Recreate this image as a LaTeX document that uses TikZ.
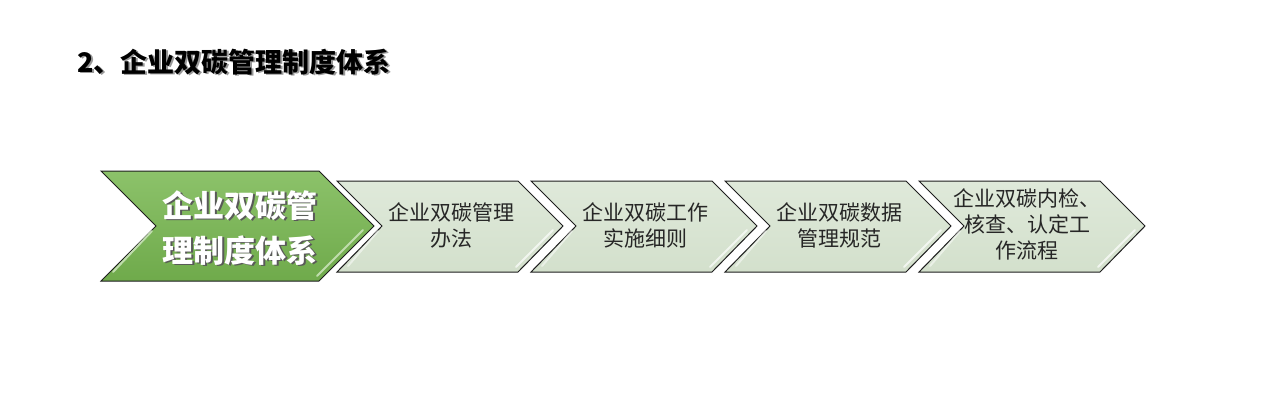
\documentclass[tikz,border=0pt]{standalone}
\usepackage{fontspec}
\newfontfamily\cjk{Noto Sans CJK SC}
\definecolor{gtop}{HTML}{8CC26A}
\definecolor{gbot}{HTML}{6FAA4B}
\definecolor{ltop}{HTML}{DFE9DA}
\definecolor{lbot}{HTML}{D3E0CC}
\definecolor{edge}{HTML}{1E1E1E}
\tikzset{
  chevgreen/.style={draw=edge, line width=1pt, top color=gtop, bottom color=gbot, line join=miter},
  chevgray/.style={draw=edge, line width=1pt, top color=ltop, bottom color=lbot, line join=miter},
  hilite/.style={line width=2pt, line cap=round},
  graytext/.style={font=\cjk\fontsize{21}{26}\selectfont, align=center, text=black!85},
  greentext/.style={font=\cjk\bfseries\fontsize{31}{45}\selectfont, align=center, text=white},
  titletext/.style={font=\cjk\bfseries\fontsize{27}{32}\selectfont, anchor=west}
}
\begin{document}
\begin{tikzpicture}[x=1pt,y=-1pt]
\useasboundingbox[fill=white] (0,0) rectangle (1280,400);
% title
\node[titletext, text=black!40] at (75.5,63.5) {2、企业双碳管理制度体系};
\node[titletext, text=black] (title) at (74,62) {2、企业双碳管理制度体系};
% green chevron
\path[chevgreen] (101,171) -- (319,171) -- (374,226) -- (319,281) -- (101,281) -- (156,226) -- cycle;
\draw[hilite, draw=gtop!55!white] (363,230) -- (317,276);
\draw[hilite, draw=gtop!55!white] (152,231) -- (113,272);
\node[greentext, text=black!65] at (241.5,229.5) {企业双碳管\\理制度体系};
\node[greentext] (g) at (240,228) {企业双碳管\\理制度体系};
% gray chevrons
\foreach \x/\n in {337/a,531/b,725/c,919/d}{
  \path[chevgray] (\x,181) -- ({\x+181},181) -- ({\x+226},226) -- ({\x+181},272) -- (\x,272) -- ({\x+45},226) -- cycle;
  \draw[hilite, draw=white!80!ltop, opacity=0.8] ({\x+216},230) -- ({\x+179},267);
  \draw[hilite, draw=white!80!ltop, opacity=0.6] ({\x+41},231) -- ({\x+11},266);
}
\node[graytext] (a) at (451,225) {企业双碳管理\\办法};
\node[graytext] (b) at (645,225) {企业双碳工作\\实施细则};
\node[graytext] (c) at (839,225) {企业双碳数据\\管理规范};
\node[graytext] (d) at (1027,224) {企业双碳内检、\\核查、认定工\\作流程};
\end{tikzpicture}
\end{document}
